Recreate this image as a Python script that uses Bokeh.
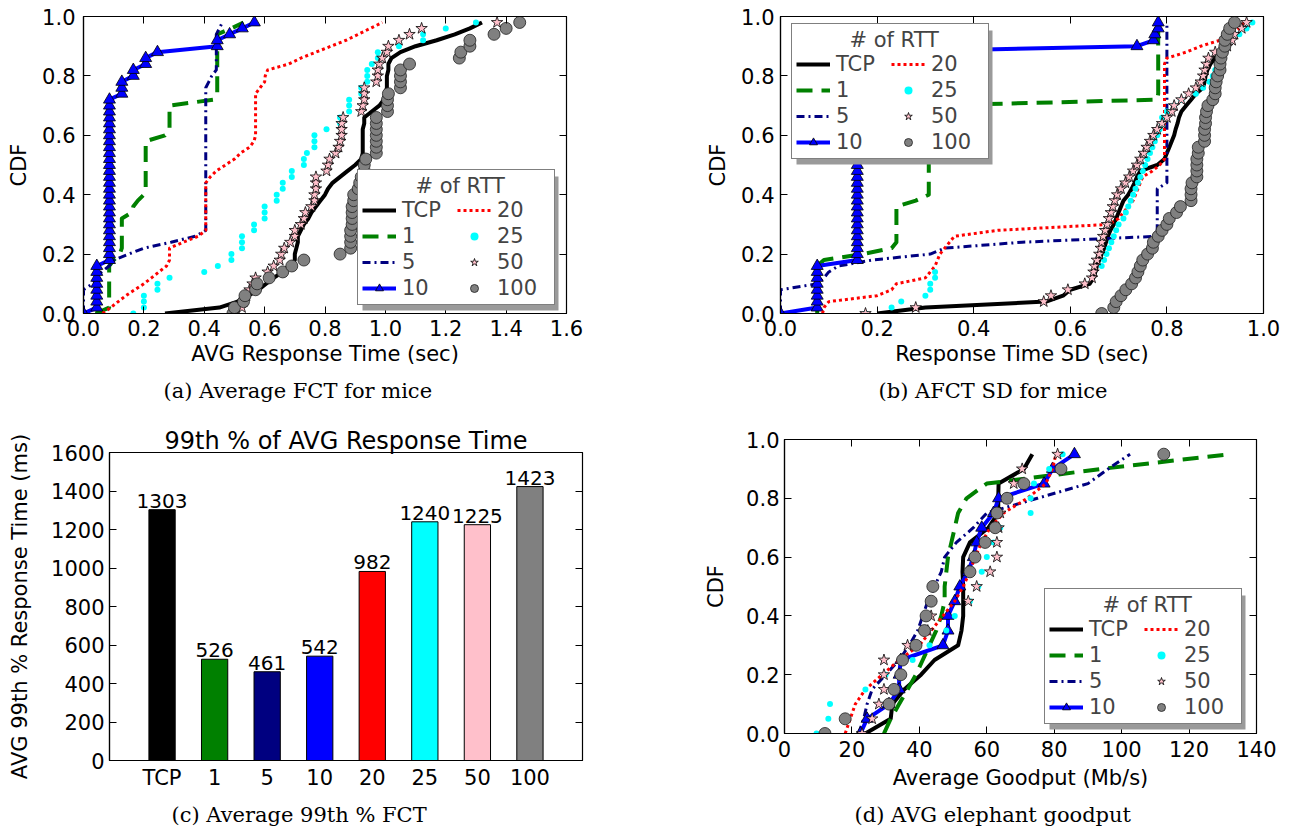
from bokeh.plotting import figure
from bokeh.models import (Range1d, FactorRange, LinearAxis, FixedTicker, PrintfTickFormatter,
                          Legend, LegendItem, Title, BoxAnnotation)
from bokeh.layouts import column, row
from bokeh.embed import file_html
from bokeh.resources import INLINE
from bokeh.core.properties import value

SANS = "DejaVu Sans"
SERIF = "DejaVu Serif"

# ---------------- data ----------------
SERIES = ["TCP", "1", "5", "10", "20", "25", "50", "100"]

CDF50 = [0.00, 0.02, 0.04, 0.06, 0.08, 0.10, 0.12, 0.14, 0.16, 0.18,
         0.20, 0.22, 0.24, 0.26, 0.28, 0.30, 0.32, 0.34, 0.36, 0.38,
         0.40, 0.42, 0.44, 0.46, 0.48, 0.50, 0.52, 0.54, 0.56, 0.58,
         0.60, 0.62, 0.64, 0.66, 0.68, 0.70, 0.72, 0.74, 0.76, 0.78,
         0.80, 0.82, 0.84, 0.86, 0.88, 0.90, 0.92, 0.94, 0.96, 0.98]
CDF20 = [0.00, 0.05, 0.10, 0.15, 0.20, 0.25, 0.30, 0.35, 0.40, 0.45,
         0.50, 0.55, 0.60, 0.65, 0.70, 0.75, 0.80, 0.85, 0.90, 0.95]

# (a) average response time (sec)
A_TCP = [0.27, 0.45, 0.51, 0.545, 0.58, 0.605, 0.63, 0.66, 0.68, 0.70,
         0.70, 0.705, 0.71, 0.71, 0.72, 0.73, 0.745, 0.755, 0.77, 0.785,
         0.80, 0.81, 0.825, 0.85, 0.875, 0.90, 0.92, 0.925, 0.925, 0.925,
         0.925, 0.925, 0.93, 0.93, 0.955, 0.98, 0.995, 1.0, 1.005, 1.005,
         1.005, 1.01, 1.01, 1.02, 1.05, 1.10, 1.17, 1.23, 1.28, 1.32]
A_1 = [0.04, 0.085, 0.085, 0.085, 0.085, 0.085, 0.085, 0.085, 0.085, 0.10,
       0.12, 0.127, 0.127, 0.127, 0.127, 0.127, 0.127, 0.16, 0.165, 0.18,
       0.20, 0.206, 0.206, 0.206, 0.206, 0.206, 0.206, 0.206, 0.206, 0.206,
       0.27, 0.285, 0.285, 0.285, 0.285, 0.285, 0.43, 0.443, 0.443, 0.443,
       0.443, 0.443, 0.443, 0.443, 0.443, 0.443, 0.443, 0.443, 0.49, 0.53]
A_5 = [0.0, 0.0, 0.0, 0.0, 0.0, 0.03, 0.045, 0.06, 0.085, 0.10,
       0.15, 0.20, 0.29, 0.37, 0.405, 0.405, 0.405, 0.405, 0.405, 0.405,
       0.405, 0.405, 0.405, 0.405, 0.405, 0.405, 0.405, 0.405, 0.405, 0.405,
       0.405, 0.405, 0.405, 0.405, 0.405, 0.405, 0.405, 0.405, 0.405, 0.415,
       0.425, 0.44, 0.44, 0.44, 0.44, 0.44, 0.44, 0.44, 0.45, 0.46]
A_10 = [0.0, 0.044, 0.044, 0.044, 0.044, 0.044, 0.044, 0.044, 0.044, 0.086,
        0.086, 0.086, 0.086, 0.086, 0.086, 0.086, 0.086, 0.086, 0.086, 0.086,
        0.086, 0.086, 0.086, 0.086, 0.086, 0.086, 0.086, 0.086, 0.086, 0.086,
        0.086, 0.086, 0.086, 0.086, 0.086, 0.086, 0.086, 0.127, 0.127, 0.127,
        0.165, 0.165, 0.206, 0.206, 0.245, 0.443, 0.443, 0.484, 0.526, 0.566]
A_20 = [0.063, 0.09, 0.115, 0.14, 0.17, 0.20, 0.225, 0.25, 0.275, 0.285,
        0.285, 0.285, 0.33, 0.38, 0.405, 0.405, 0.405, 0.405, 0.405, 0.405,
        0.405, 0.405, 0.405, 0.42, 0.44, 0.47, 0.50, 0.52, 0.55, 0.565,
        0.57, 0.57, 0.57, 0.57, 0.57, 0.57, 0.57, 0.57, 0.585, 0.60,
        0.602, 0.61, 0.68, 0.72, 0.77, 0.82, 0.87, 0.91, 0.95, 0.99]
A_25 = [0.165, 0.20, 0.20, 0.20, 0.245, 0.245, 0.285, 0.40, 0.445, 0.49,
        0.49, 0.525, 0.525, 0.525, 0.565, 0.565, 0.60, 0.60, 0.60, 0.64,
        0.64, 0.66, 0.66, 0.69, 0.69, 0.73, 0.73, 0.74, 0.765, 0.765,
        0.765, 0.805, 0.85, 0.85, 0.88, 0.88, 0.88, 0.92, 0.92, 0.94,
        0.94, 0.94, 0.955, 0.975, 0.975, 1.045, 1.125, 1.125, 1.20, 1.30]
A_50 = [0.50, 0.525, 0.53, 0.54, 0.55, 0.56, 0.57, 0.61, 0.63, 0.65,
        0.655, 0.665, 0.685, 0.70, 0.70, 0.72, 0.73, 0.735, 0.755, 0.765,
        0.765, 0.77, 0.77, 0.77, 0.805, 0.81, 0.815, 0.835, 0.845, 0.85,
        0.855, 0.855, 0.855, 0.86, 0.92, 0.925, 0.93, 0.93, 0.93, 0.97,
        0.975, 0.975, 0.98, 0.99, 1.005, 1.01, 1.045, 1.08, 1.12, 1.37]
A_100 = [0.495, 0.50, 0.53, 0.535, 0.57, 0.575, 0.615, 0.66, 0.69, 0.73,
         0.85, 0.885, 0.885, 0.885, 0.885, 0.89, 0.89, 0.89, 0.89, 0.895,
         0.895, 0.91, 0.915, 0.92, 0.93, 0.93, 0.935, 0.97, 0.97, 0.97,
         0.97, 0.97, 0.97, 0.97, 1.007, 1.007, 1.007, 1.01, 1.05, 1.05,
         1.05, 1.05, 1.08, 1.245, 1.25, 1.28, 1.28, 1.36, 1.40, 1.445]

# (b) response time SD (sec)
B_TCP = [0.20, 0.30, 0.55, 0.585, 0.60, 0.64, 0.648, 0.652, 0.655, 0.66,
         0.665, 0.67, 0.674, 0.678, 0.683, 0.69, 0.695, 0.70, 0.705, 0.71,
         0.72, 0.727, 0.733, 0.738, 0.745, 0.78, 0.795, 0.80, 0.805, 0.81,
         0.815, 0.818, 0.822, 0.825, 0.83, 0.84, 0.85, 0.86, 0.875, 0.878,
         0.88, 0.884, 0.89, 0.90, 0.91, 0.915, 0.918, 0.925, 0.935, 0.94]
B_1 = [0.076, 0.076, 0.076, 0.076, 0.076, 0.076, 0.076, 0.076, 0.076, 0.09,
       0.17, 0.23, 0.24, 0.24, 0.24, 0.24, 0.24, 0.24, 0.24, 0.28,
       0.307, 0.307, 0.307, 0.307, 0.307, 0.307, 0.307, 0.307, 0.307, 0.307,
       0.307, 0.307, 0.307, 0.307, 0.307, 0.307, 0.78, 0.782, 0.782, 0.782,
       0.782, 0.782, 0.782, 0.782, 0.782, 0.782, 0.782, 0.782, 0.782, 0.782]
B_5 = [0.0, 0.0, 0.0, 0.0, 0.0, 0.076, 0.09, 0.10, 0.12, 0.19,
       0.31, 0.34, 0.50, 0.78, 0.78, 0.78, 0.78, 0.78, 0.78, 0.78,
       0.78, 0.78, 0.80, 0.80, 0.80, 0.80, 0.80, 0.80, 0.80, 0.80,
       0.80, 0.80, 0.80, 0.80, 0.80, 0.80, 0.80, 0.80, 0.80, 0.80,
       0.80, 0.80, 0.80, 0.80, 0.80, 0.80, 0.80, 0.80, 0.80, 0.80]
B_10 = [0.0, 0.076, 0.076, 0.076, 0.076, 0.076, 0.076, 0.076, 0.076, 0.159,
        0.159, 0.159, 0.159, 0.159, 0.159, 0.159, 0.159, 0.159, 0.159, 0.159,
        0.159, 0.159, 0.159, 0.159, 0.159, 0.159, 0.159, 0.159, 0.159, 0.159,
        0.159, 0.159, 0.159, 0.159, 0.159, 0.159, 0.159, 0.159, 0.159, 0.159,
        0.159, 0.159, 0.159, 0.159, 0.159, 0.738, 0.772, 0.775, 0.782, 0.782]
B_20 = [0.087, 0.09, 0.10, 0.20, 0.23, 0.24, 0.30, 0.31, 0.32, 0.325,
        0.33, 0.34, 0.35, 0.36, 0.45, 0.68, 0.70, 0.71, 0.72, 0.73,
        0.735, 0.74, 0.745, 0.75, 0.77, 0.785, 0.795, 0.795, 0.795, 0.795,
        0.795, 0.795, 0.795, 0.795, 0.795, 0.795, 0.795, 0.795, 0.795, 0.795,
        0.795, 0.795, 0.795, 0.80, 0.84, 0.87, 0.91, 0.93, 0.95, 0.96]
B_25 = [0.176, 0.23, 0.25, 0.30, 0.31, 0.31, 0.32, 0.32, 0.665, 0.67,
        0.675, 0.68, 0.685, 0.69, 0.695, 0.70, 0.71, 0.715, 0.72, 0.725,
        0.73, 0.735, 0.74, 0.745, 0.75, 0.755, 0.76, 0.765, 0.77, 0.775,
        0.78, 0.785, 0.79, 0.79, 0.80, 0.815, 0.83, 0.86, 0.875, 0.888,
        0.895, 0.90, 0.905, 0.91, 0.915, 0.92, 0.93, 0.95, 0.965, 0.977]
B_50 = [0.176, 0.28, 0.545, 0.56, 0.595, 0.63, 0.645, 0.648, 0.65, 0.655,
        0.66, 0.663, 0.665, 0.668, 0.672, 0.676, 0.68, 0.684, 0.688, 0.692,
        0.697, 0.705, 0.714, 0.722, 0.73, 0.738, 0.745, 0.752, 0.758, 0.765,
        0.772, 0.78, 0.79, 0.80, 0.81, 0.815, 0.83, 0.845, 0.86, 0.87,
        0.875, 0.878, 0.882, 0.886, 0.90, 0.925, 0.935, 0.94, 0.955, 0.965]
B_100 = [0.665, 0.69, 0.695, 0.705, 0.715, 0.727, 0.735, 0.74, 0.745, 0.75,
         0.76, 0.77, 0.772, 0.782, 0.79, 0.80, 0.805, 0.82, 0.828, 0.85,
         0.85, 0.85, 0.852, 0.862, 0.862, 0.862, 0.862, 0.865, 0.865, 0.878,
         0.878, 0.878, 0.88, 0.88, 0.882, 0.885, 0.895, 0.90, 0.90, 0.902,
         0.905, 0.91, 0.91, 0.912, 0.915, 0.92, 0.92, 0.925, 0.93, 0.94]

# (c) 99th percentile of average response time (ms)
BAR_VALUES = [1303, 526, 461, 542, 982, 1240, 1225, 1423]

# (d) average elephant goodput (Mb/s)
D_TCP = [24, 31.5, 32, 35.5, 40.5, 44.5, 51.5, 52.5, 53, 53,
         53, 52.8, 53, 55, 60.5, 63.4, 63.4, 63.5, 71, 73.5]
D_1 = [29.5, 31.5, 34, 36.5, 39, 41, 43, 45, 46.5, 47.5,
       47.5, 48, 48.5, 49.5, 50.5, 51.5, 54, 60, 94, 132]
D_5 = [22, 23.5, 24.5, 26, 30, 34, 37, 39.5, 41, 42.5,
       44.5, 46.5, 47.5, 51, 56, 60, 75, 90, 96, 102.5]
D_10 = [22.5, 24.5, 31, 34, 34, 34.5, 47, 48.5, 48.5, 50.5,
        52, 54.5, 56, 57, 58.5, 62, 63.5, 77, 79.5, 86]
D_20 = [18, 19.5, 21, 24, 29, 34, 40, 43.5, 47, 50.5,
        53, 55, 56.5, 58.5, 61, 65, 72, 77.5, 79.5, 80.5]
D_25 = [9.5, 13, 13.5, 24, 30, 38, 43, 48, 50.5, 55,
        57.5, 58.5, 60, 62, 64, 73, 73, 74, 78.5, 82.5]
D_50 = [23, 26, 28, 29.5, 29.5, 29.5, 36.5, 42.5, 43.5, 54.5,
        57, 61, 63, 63, 63.5, 64, 66, 68, 70.5, 81]
D_100 = [12, 18, 31, 32.5, 34.5, 35, 39, 41.5, 42, 43.5,
         44, 55, 56.5, 59.5, 62.5, 63, 66, 71, 82, 112.5]

A_DATA = [A_TCP, A_1, A_5, A_10, A_20, A_25, A_50, A_100]
B_DATA = [B_TCP, B_1, B_5, B_10, B_20, B_25, B_50, B_100]
D_DATA = [D_TCP, D_1, D_5, D_10, D_20, D_25, D_50, D_100]

# ---------------- styles ----------------
BAR_COLORS = ["#000000", "#008000", "#000080", "#0000ff", "#ff0000", "#00ffff", "#ffc0cb", "#808080"]
LINE_STYLE = {
    "TCP": dict(color="#000000", width=4, dash="solid"),
    "1": dict(color="#008000", width=4, dash="16 9"),
    "5": dict(color="#000080", width=3, dash="8 4 2 4"),
    "10": dict(color="#0000ff", width=4, dash="solid"),
    "20": dict(color="#ff0000", width=3, dash="3 3"),
}
MARK_STYLE = {
    "10": dict(marker="triangle", size=12, fill="#0000ff", line="#000000", lw=0.8),
    "25": dict(marker="circle", size=6, fill="#00ffff", line=None, lw=0),
    "50": dict(marker="star", size=12, fill="#ffc0cb", line="#000000", lw=0.8),
    "100": dict(marker="circle", size=12, fill="#808080", line="#202020", lw=0.8),
}

LEG_W, LEG_H, SHADOW = 196, 134, 5


def style_axis(ax, standoff=7, label_standoff=8):
    ax.axis_line_color = "black"
    ax.axis_line_width = 1.2
    ax.major_tick_in = 7
    ax.major_tick_out = 0
    ax.major_tick_line_color = "black"
    ax.major_tick_line_width = 1
    ax.minor_tick_line_color = None
    ax.major_label_text_font = SANS
    ax.major_label_text_font_size = "21px"
    ax.major_label_text_color = "black"
    ax.axis_label_text_font = SANS
    ax.axis_label_text_font_size = "21px"
    ax.axis_label_text_font_style = "normal"
    ax.axis_label_text_color = "black"
    ax.major_label_standoff = standoff
    ax.axis_label_standoff = label_standoff


def mirror(p, side, ticks):
    ax = LinearAxis(ticker=FixedTicker(ticks=ticks))
    ax.major_label_overrides = {t: "" for t in ticks}
    ax.major_label_text_font_size = "1px"
    ax.major_label_text_color = None
    ax.major_label_standoff = 0
    ax.major_tick_in = 7
    ax.major_tick_out = 0
    ax.minor_tick_line_color = None
    ax.axis_line_color = "black"
    ax.major_tick_line_color = "black"
    p.add_layout(ax, side)


def base_fig(xr, yr, fw, fh, ml, mr, mt, mb):
    p = figure(x_range=xr, y_range=yr, frame_width=fw, frame_height=fh,
               min_border_left=ml, min_border_right=mr, min_border_top=mt, min_border_bottom=mb,
               output_backend="svg", toolbar_location=None)
    p.xgrid.visible = False
    p.ygrid.visible = False
    p.outline_line_color = "black"
    p.outline_line_width = 1.2
    p.background_fill_color = "white"
    p.border_fill_color = "white"
    return p


def caption(p, text, offset, standoff):
    t = Title(text=text, align="left", offset=offset, standoff=standoff,
              text_font=SERIF, text_font_size="21px", text_font_style="normal", text_color="black")
    p.add_layout(t, "below")


def draw_cdf(p, data, levels):
    rends = {}
    for name, xs in zip(SERIES, data):
        rs = []
        if name in LINE_STYLE:
            st = LINE_STYLE[name]
            rs.append(p.line(xs, levels, line_color=st["color"], line_width=st["width"],
                             line_dash=st["dash"], line_cap="butt", line_join="round"))
        if name in MARK_STYLE:
            ms = MARK_STYLE[name]
            rs.append(p.scatter(xs, levels, marker=ms["marker"], size=ms["size"],
                                fill_color=ms["fill"], line_color=ms["line"], line_width=ms["lw"]))
        rends[name] = rs
    return rends


def add_legend(p, rends, loc, xspan, fw, fh):
    # drop shadow behind the legend box (converted from screen offsets to data units)
    x0, x1 = xspan
    sx = (x1 - x0) / fw
    shadow = BoxAnnotation(left=x0 + (loc[0] + SHADOW) * sx,
                           right=x0 + (loc[0] + LEG_W + SHADOW) * sx,
                           bottom=(loc[1] - SHADOW) / fh,
                           top=(loc[1] + LEG_H - SHADOW) / fh,
                           fill_color="#9a9a9a", fill_alpha=1.0, line_color=None)
    p.add_layout(shadow)
    items = [LegendItem(label=n, renderers=rends[n]) for n in SERIES]
    leg = Legend(items=items, location=loc, nrows=4,
                 title="\u00a0" * 8 + "# of RTT",
                 title_text_font=SANS, title_text_font_size="21px", title_text_font_style="normal",
                 title_standoff=0,
                 label_text_font=SANS, label_text_font_size="21px",
                 glyph_width=34, glyph_height=20, label_height=20, label_width=53, label_standoff=6,
                 spacing=2, padding=4, margin=0,
                 border_line_color="black", border_line_width=1.5,
                 background_fill_color="white", background_fill_alpha=1.0)
    p.add_layout(leg)


CDF_TICKS = [0.0, 0.2, 0.4, 0.6, 0.8, 1.0]

# ---------------- (a) ----------------
pa = base_fig(Range1d(0, 1.6), Range1d(0, 1.0), 483, 297, 83, 82, 16, 111)
ra = draw_cdf(pa, A_DATA, CDF50)
pa.xaxis.ticker = FixedTicker(ticks=[0.0, 0.2, 0.4, 0.6, 0.8, 1.0, 1.2, 1.4, 1.6])
pa.yaxis.ticker = FixedTicker(ticks=CDF_TICKS)
pa.xaxis.formatter = PrintfTickFormatter(format="%.1f")
pa.yaxis.formatter = PrintfTickFormatter(format="%.1f")
pa.xaxis.axis_label = "AVG Response Time (sec)"
pa.yaxis.axis_label = "CDF"
style_axis(pa.xaxis[0], 6, 3)
style_axis(pa.yaxis[0], 8, 8)
mirror(pa, "above", [0.0, 0.2, 0.4, 0.6, 0.8, 1.0, 1.2, 1.4, 1.6])
mirror(pa, "right", CDF_TICKS)
add_legend(pa, ra, (274, 8), (0, 1.6), 483, 297)
caption(pa, "(a) Average FCT for mice", 80, 17)

# ---------------- (b) ----------------
pb = base_fig(Range1d(0, 1.0), Range1d(0, 1.0), 483, 297, 132, 27, 16, 111)
rb = draw_cdf(pb, B_DATA, CDF50)
pb.xaxis.ticker = FixedTicker(ticks=CDF_TICKS)
pb.yaxis.ticker = FixedTicker(ticks=CDF_TICKS)
pb.xaxis.formatter = PrintfTickFormatter(format="%.1f")
pb.yaxis.formatter = PrintfTickFormatter(format="%.1f")
pb.xaxis.axis_label = "Response Time SD (sec)"
pb.yaxis.axis_label = "CDF"
style_axis(pb.xaxis[0], 6, 3)
style_axis(pb.yaxis[0], 6, 8)
mirror(pb, "above", CDF_TICKS)
mirror(pb, "right", CDF_TICKS)
add_legend(pb, rb, (11, 154), (0, 1.0), 483, 297)
caption(pb, "(b) AFCT SD for mice", 98, 17)

# ---------------- (c) ----------------
pc = base_fig(FactorRange(factors=SERIES, range_padding=0.125), Range1d(0, 1600), 473, 308, 109, 66, 28, 70)
pc.vbar(x=SERIES, top=BAR_VALUES, width=0.5, fill_color=BAR_COLORS, line_color="black", line_width=1)
pc.text(x=SERIES, y=BAR_VALUES, text=[str(v) for v in BAR_VALUES], text_align="center",
        text_baseline="bottom", y_offset=-2, text_font=value(SANS), text_font_size="20px",
        text_color="black")
pc.yaxis.ticker = FixedTicker(ticks=[0, 200, 400, 600, 800, 1000, 1200, 1400, 1600])
pc.yaxis.axis_label = "AVG 99th % Response Time (ms)"
style_axis(pc.xaxis[0], 5, 7)
style_axis(pc.yaxis[0], 5, 16)
pc.xaxis.major_tick_line_color = None
mirror(pc, "right", [0, 200, 400, 600, 800, 1000, 1200, 1400, 1600])
pc.title.text = "99th % of AVG Response Time"
pc.title.align = "center"
pc.title.text_font = SANS
pc.title.text_font_size = "24px"
pc.title.text_font_style = "normal"
pc.title.text_color = "black"
pc.title.standoff = -4
caption(pc, "(c) Average 99th % FCT", 62, 16)

# ---------------- (d) ----------------
pd_ = base_fig(Range1d(0, 140), Range1d(0, 1.0), 472, 294, 136, 26, 15, 97)
rd = draw_cdf(pd_, D_DATA, CDF20)
pd_.xaxis.ticker = FixedTicker(ticks=[0, 20, 40, 60, 80, 100, 120, 140])
pd_.yaxis.ticker = FixedTicker(ticks=CDF_TICKS)
pd_.xaxis.formatter = PrintfTickFormatter(format="%d")
pd_.yaxis.formatter = PrintfTickFormatter(format="%.1f")
pd_.xaxis.axis_label = "Average Goodput (Mb/s)"
pd_.yaxis.axis_label = "CDF"
style_axis(pd_.xaxis[0], 7, 6)
style_axis(pd_.yaxis[0], 5, 15)
mirror(pd_, "above", [0, 20, 40, 60, 80, 100, 120, 140])
mirror(pd_, "right", CDF_TICKS)
add_legend(pd_, rd, (260, 9), (0, 140), 472, 294)
caption(pd_, "(d) AVG elephant goodput", 70, 17)

layout = column(row(column(pa), column(pb)), row(column(pc), column(pd_)))
open("out.html", "w").write(file_html(layout, INLINE))
